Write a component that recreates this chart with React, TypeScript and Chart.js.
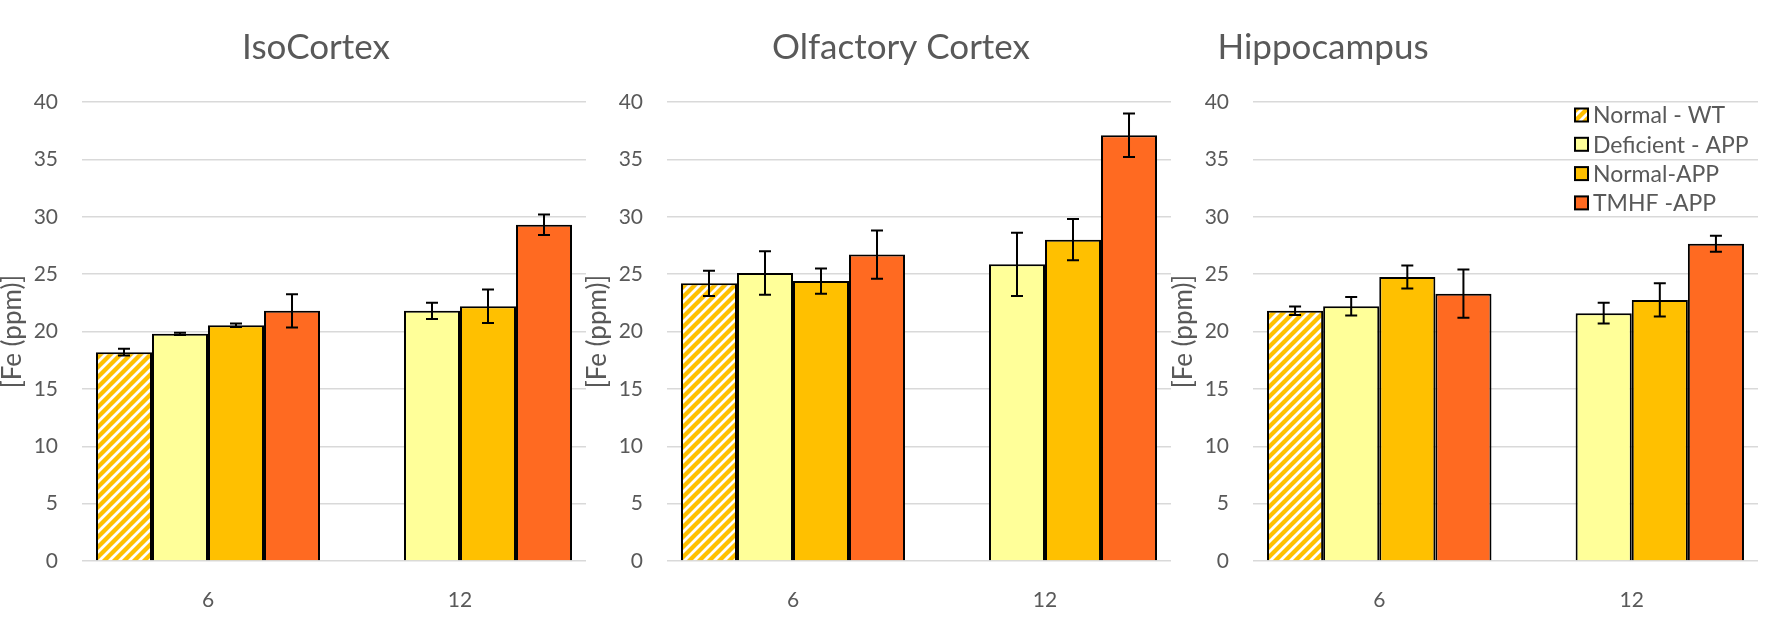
import React, { useEffect, useRef } from "react";
import { Chart, registerables } from "chart.js";
Chart.register(...registerables);

// ---------- data ----------
const categories = ["6", "12"];
const seriesNames = ["Normal - WT", "Deficient - APP", "Normal-APP", "TMHF -APP"];
const panelTitles = ["IsoCortex", "Olfactory Cortex", "Hippocampus"];
const yAxisTitle = "[Fe (ppm)]";
const yMin = 0;
const yMax = 40;
const yStep = 5;

// IsoCortex
const isoNormalWT = [18.2, null];
const isoDeficientAPP = [19.8, 21.8];
const isoNormalAPP = [20.55, 22.2];
const isoTmhfAPP = [21.8, 29.3];
const isoNormalWTErr = [0.3, null];
const isoDeficientAPPErr = [0.1, 0.7];
const isoNormalAPPErr = [0.15, 1.45];
const isoTmhfAPPErr = [1.45, 0.9];

// Olfactory Cortex
const olfNormalWT = [24.2, null];
const olfDeficientAPP = [25.1, 25.85];
const olfNormalAPP = [24.4, 28.0];
const olfTmhfAPP = [26.7, 37.1];
const olfNormalWTErr = [1.1, null];
const olfDeficientAPPErr = [1.9, 2.75];
const olfNormalAPPErr = [1.1, 1.8];
const olfTmhfAPPErr = [2.1, 1.9];

// Hippocampus
const hipNormalWT = [21.8, null];
const hipDeficientAPP = [22.2, 21.6];
const hipNormalAPP = [24.75, 22.75];
const hipTmhfAPP = [23.3, 27.65];
const hipNormalWTErr = [0.37, null];
const hipDeficientAPPErr = [0.8, 0.9];
const hipNormalAPPErr = [1.0, 1.45];
const hipTmhfAPPErr = [2.1, 0.7];

// ---------- styles ----------
const TEXT = "#595959";
const GRID = "#D9D9D9";
const FONT = "Lato, 'Open Sans', sans-serif";
const COLORS = ["hatch", "#FFFF99", "#FFC000", "#FF6A21"];

function makeHatch(ctx: CanvasRenderingContext2D): CanvasPattern | string {
  const c = document.createElement("canvas");
  c.width = 10;
  c.height = 10;
  const g = c.getContext("2d")!;
  g.fillStyle = "#FFC000";
  g.fillRect(0, 0, 10, 10);
  g.strokeStyle = "#FFFFFF";
  g.lineWidth = 2.8;
  g.beginPath();
  g.moveTo(-5, 5);
  g.lineTo(5, -5);
  g.moveTo(0, 10);
  g.lineTo(10, 0);
  g.moveTo(5, 15);
  g.lineTo(15, 5);
  g.stroke();
  return ctx.createPattern(c, "repeat") || "#FFC000";
}

const errorBarPlugin = {
  id: "errorBars",
  afterDatasetsDraw(chart: any, _args: any, opts: any) {
    const errs: (number | null)[][] = opts.errors || [];
    const ctx = chart.ctx;
    const yScale = chart.scales.y;
    ctx.save();
    ctx.strokeStyle = "#000";
    ctx.lineWidth = 2;
    chart.data.datasets.forEach((ds: any, i: number) => {
      const meta = chart.getDatasetMeta(i);
      meta.data.forEach((el: any, j: number) => {
        const v = ds.data[j];
        const e = errs[i] ? errs[i][j] : null;
        if (v == null || e == null) return;
        const x = el.x;
        const yT = yScale.getPixelForValue(v + e);
        const yB = yScale.getPixelForValue(v - e);
        const cap = 6;
        ctx.beginPath();
        ctx.moveTo(x, yT);
        ctx.lineTo(x, yB);
        ctx.moveTo(x - cap, yT);
        ctx.lineTo(x + cap, yT);
        ctx.moveTo(x - cap, yB);
        ctx.lineTo(x + cap, yB);
        ctx.stroke();
      });
    });
    ctx.restore();
  },
};

const panelTitlePlugin = {
  id: "panelTitle",
  afterDraw(chart: any, _args: any, opts: any) {
    const ctx = chart.ctx;
    ctx.save();
    ctx.fillStyle = TEXT;
    ctx.font = `${opts.size}px ${FONT}`;
    ctx.textAlign = "center";
    ctx.textBaseline = "alphabetic";
    ctx.fillText(opts.text, opts.x, opts.y);
    ctx.restore();
  },
};

const boxLegendPlugin = {
  id: "boxLegend",
  afterDraw(chart: any, _args: any, opts: any) {
    if (!opts.show) return;
    const ctx = chart.ctx;
    ctx.save();
    ctx.font = `23px ${FONT}`;
    ctx.textBaseline = "middle";
    ctx.textAlign = "left";
    chart.data.datasets.forEach((ds: any, i: number) => {
      const cy = opts.y + i * opts.gap;
      const bx = opts.x;
      const s = 13;
      ctx.fillStyle = ds.backgroundColor;
      ctx.fillRect(bx, cy - s / 2, s, s);
      ctx.strokeStyle = "#000";
      ctx.lineWidth = 2;
      ctx.strokeRect(bx, cy - s / 2, s, s);
      ctx.fillStyle = TEXT;
      ctx.fillText(ds.label, bx + s + 5, cy + 1);
    });
    ctx.restore();
  },
};

type PanelProps = {
  left: number;
  width: number;
  padRight: number;
  title: string;
  titleX: number;
  series: (number | null)[][];
  errors: (number | null)[][];
  legend: boolean;
};

function Panel(p: PanelProps) {
  const ref = useRef<HTMLCanvasElement | null>(null);
  useEffect(() => {
    let chart: Chart | null = null;
    let cancelled = false;
    const build = () => {
      if (cancelled || !ref.current) return;
      const ctx = ref.current.getContext("2d")!;
      const hatch = makeHatch(ctx);
      const datasets = seriesNames.map((name, i) => ({
        label: name,
        data: p.series[i],
        backgroundColor: COLORS[i] === "hatch" ? hatch : COLORS[i],
        borderColor: "#000000",
        borderWidth: 2,
        categoryPercentage: 0.889,
        barPercentage: 1.0,
      }));
      chart = new Chart(ref.current, {
        type: "bar",
        data: { labels: categories, datasets: datasets as any },
        plugins: [errorBarPlugin, panelTitlePlugin, boxLegendPlugin],
        options: {
          responsive: false,
          animation: false,
          devicePixelRatio: 1,
          events: [],
          layout: { padding: { top: 102, right: p.padRight, left: 0, bottom: 0 } },
          plugins: {
            legend: { display: false },
            title: { display: false },
            tooltip: { enabled: false },
            errorBars: { errors: p.errors },
            panelTitle: { text: p.title, x: p.titleX, y: 59, size: 35 },
            boxLegend: { show: p.legend, x: 404, y: 115, gap: 29.3 },
          } as any,
          scales: {
            x: {
              grid: { display: false },
              border: { display: false },
              ticks: { color: TEXT, font: { family: FONT, size: 21 }, padding: 19 },
              afterFit: (s: any) => {
                s.height = 65;
              },
            },
            y: {
              min: yMin,
              max: yMax,
              ticks: { stepSize: yStep, color: TEXT, font: { family: FONT, size: 21 }, padding: 24 },
              grid: { color: GRID, lineWidth: 1.5, drawTicks: false },
              border: { display: false },
              title: {
                display: true,
                text: yAxisTitle,
                color: TEXT,
                font: { family: FONT, size: 26, lineHeight: 1 },
                padding: { top: 0, bottom: 0 },
              },
              afterFit: (s: any) => {
                s.width = 82;
              },
            },
          },
        } as any,
      });
    };
    const fontsReady = (document as any).fonts
      ? Promise.all([
          (document as any).fonts.load(`21px Lato`),
          (document as any).fonts.load(`35px Lato`),
        ]).catch(() => null)
      : Promise.resolve(null);
    fontsReady.then(build);
    return () => {
      cancelled = true;
      if (chart) chart.destroy();
    };
  }, []);
  return (
    <canvas
      ref={ref}
      width={p.width}
      height={626}
      style={{ position: "absolute", left: p.left, top: 0, width: p.width, height: 626 }}
    />
  );
}

export default function App() {
  return (
    <div style={{ position: "absolute", left: 0, top: 0, width: 1788, height: 626, background: "#fff" }}>
      <Panel
        left={0}
        width={586}
        padRight={0}
        title={panelTitles[0]}
        titleX={316}
        series={[isoNormalWT, isoDeficientAPP, isoNormalAPP, isoTmhfAPP]}
        errors={[isoNormalWTErr, isoDeficientAPPErr, isoNormalAPPErr, isoTmhfAPPErr]}
        legend={false}
      />
      <Panel
        left={585}
        width={586}
        padRight={0}
        title={panelTitles[1]}
        titleX={316}
        series={[olfNormalWT, olfDeficientAPP, olfNormalAPP, olfTmhfAPP]}
        errors={[olfNormalWTErr, olfDeficientAPPErr, olfNormalAPPErr, olfTmhfAPPErr]}
        legend={false}
      />
      <Panel
        left={1171}
        width={617}
        padRight={30}
        title={panelTitles[2]}
        titleX={152}
        series={[hipNormalWT, hipDeficientAPP, hipNormalAPP, hipTmhfAPP]}
        errors={[hipNormalWTErr, hipDeficientAPPErr, hipNormalAPPErr, hipTmhfAPPErr]}
        legend={true}
      />
    </div>
  );
}
